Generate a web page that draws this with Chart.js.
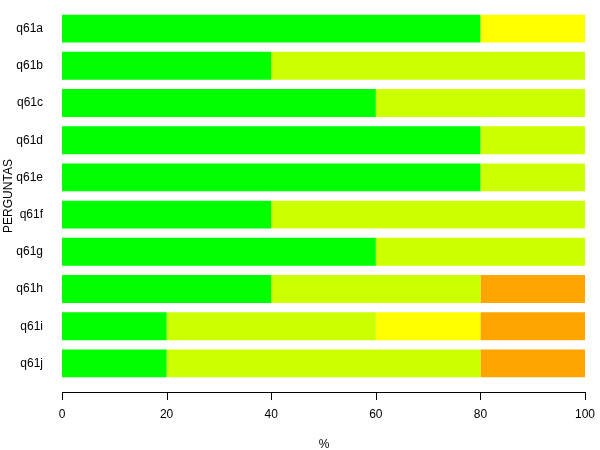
<!DOCTYPE html>
<html><head><meta charset="utf-8">
<script src="https://cdn.jsdelivr.net/npm/chart.js@4"></script>
<style>html,body{margin:0;padding:0;background:#fff}#w{width:600px;height:450px}</style>
</head><body><div id="w"><canvas id="c" width="600" height="450"></canvas></div>
<script>
const categories = ["q61a","q61b","q61c","q61d","q61e","q61f","q61g","q61h","q61i","q61j"];
const green      = [80,40,60,80,80,40,60,40,20,20];
const yellowGreen= [0,60,40,20,20,60,40,40,40,60];
const yellow     = [20,0,0,0,0,0,0,0,20,0];
const orange     = [0,0,0,0,0,0,0,20,20,20];
const xTicks = [0,20,40,60,80,100];

const axisPlugin = {
  id:'axisPlugin',
  afterDraw(chart){
    const ctx = chart.ctx, x = chart.scales.x, ca = chart.chartArea;
    const y0 = ca.bottom + 10;
    ctx.save();
    ctx.strokeStyle = '#000'; ctx.lineWidth = 1;
    ctx.beginPath();
    const a = Math.round(x.getPixelForValue(xTicks[0]))+0.5, b = Math.round(x.getPixelForValue(xTicks[xTicks.length-1]))+0.5;
    ctx.moveTo(a, y0+0.5); ctx.lineTo(b, y0+0.5);
    xTicks.forEach(t=>{ const p = Math.round(x.getPixelForValue(t))+0.5; ctx.moveTo(p,y0); ctx.lineTo(p,y0+8); });
    ctx.stroke();
    ctx.fillStyle='#000'; ctx.font='12px "Liberation Sans", Arial, sans-serif';
    ctx.textAlign='center'; ctx.textBaseline='middle';
    xTicks.forEach(t=>{ ctx.fillText(String(t), x.getPixelForValue(t), y0+23); });
    ctx.fillText('%', (a+b)/2, y0+53);
    ctx.restore();
  }
};

new Chart(document.getElementById('c'), {
  type:'bar',
  data:{
    labels: categories,
    datasets:[
      {data:green, backgroundColor:'#00FF00'},
      {data:yellowGreen, backgroundColor:'#CCFF00'},
      {data:yellow, backgroundColor:'#FFFF00'},
      {data:orange, backgroundColor:'#FFA500'}
    ]
  },
  options:{
    indexAxis:'y', responsive:false, animation:false,
    layout:{padding:{top:10,right:15,left:1,bottom:0}},
    plugins:{legend:{display:false}, tooltip:{enabled:false}},
    datasets:{bar:{categoryPercentage:1, barPercentage:0.75, borderWidth:0}},
    scales:{
      x:{stacked:true, min:0, max:100, grid:{display:false, drawTicks:false}, border:{display:false},
         ticks:{display:false, stepSize:20}, afterFit(s){ s.height = 68; s.paddingLeft=0; s.paddingRight=0; }},
      y:{stacked:true, grid:{display:false, drawTicks:false}, border:{display:false},
         ticks:{color:'#000', font:{family:'"Liberation Sans", Arial, sans-serif', size:12}, padding:19},
         title:{display:true, text:'PERGUNTAS', color:'#000', font:{family:'"Liberation Sans", Arial, sans-serif', size:12}, padding:{top:0,bottom:0}},
         afterFit(s){ s.width = 61; s.paddingTop = 0; s.paddingBottom = 0; }}
    }
  },
  plugins:[axisPlugin]
});
</script></body></html>
